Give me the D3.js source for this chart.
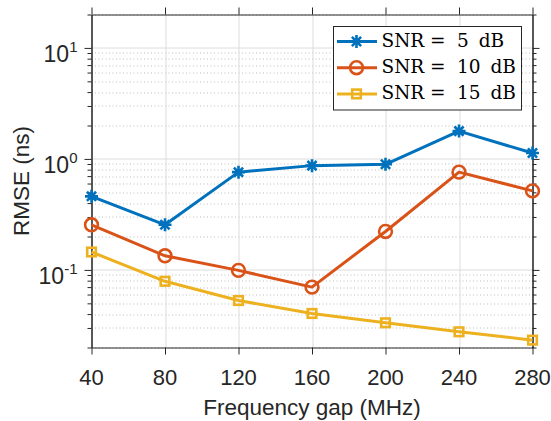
<!DOCTYPE html>
<html>
<head>
<meta charset="utf-8">
<script src="https://cdn.jsdelivr.net/npm/d3@7"></script>
<style>
  html, body { margin: 0; padding: 0; background: #fff; }
  svg { display: block; }
  .tick-label { font-family: "Liberation Sans", Arial, Helvetica, sans-serif; fill: #262626; }
  .legend-text { font-family: "DejaVu Serif", "Liberation Serif", serif; fill: #000; }
</style>
</head>
<body>
<svg class="chart" width="551" height="421"></svg>
<script>
const freqs = [40, 80, 120, 160, 200, 240, 280],
      snr5  = [0.46, 0.255, 0.76, 0.87, 0.895, 1.78, 1.13],
      snr10 = [0.255, 0.134, 0.099, 0.070, 0.222, 0.76, 0.515],
      snr15 = [0.145, 0.079, 0.053, 0.0405, 0.0334, 0.0277, 0.0233],
      seriesNames = ["5", "10", "15"],
      xTicks = [40, 80, 120, 160, 200, 240, 280],
      yMajor = [0.1, 1, 10],
      yExp = ["-1", "0", "1"]

const colors = ["#0072bd", "#d95319", "#edb120"],
      markers = ["star", "circle", "square"],
      axisColor = "#262626"

const margin = { top: 14.5, right: 18.5, bottom: 73.5, left: 91.5 },
      W = 551, H = 421,
      width = W - margin.left - margin.right,
      height = H - margin.top - margin.bottom

var chart = d3.select(".chart")

var x = d3.scaleLinear().domain([40, 280]).range([0, width])
var y = d3.scaleLog().domain([0.02, 20]).range([height, 0])

var g = chart.append("g")
  .attr("transform", "translate(" + margin.left + "," + margin.top + ")")

// minor log ticks: 2..9 in each decade, inside the domain
var yMinor = []
;[0.01, 0.1, 1, 10].forEach(function(dec) {
  for (var k = 2; k <= 9; k++) {
    var v = +(dec * k).toPrecision(3)
    if (v >= 0.02 && v <= 20) yMinor.push(v)
  }
})

// grid
g.append("g").selectAll("line").data(yMinor).enter().append("line")
  .attr("x1", 0).attr("x2", width)
  .attr("y1", function(d) { return Math.round(y(d)) + 0.5 })
  .attr("y2", function(d) { return Math.round(y(d)) + 0.5 })
  .attr("stroke", "#bdbdbd").attr("stroke-width", 1)
  .attr("stroke-dasharray", "1,2.5")

g.append("g").selectAll("line").data(yMajor).enter().append("line")
  .attr("x1", 0).attr("x2", width)
  .attr("y1", function(d) { return Math.round(y(d)) + 0.5 })
  .attr("y2", function(d) { return Math.round(y(d)) + 0.5 })
  .attr("stroke", "#dcdcdc").attr("stroke-width", 1)

g.append("g").selectAll("line").data(xTicks).enter().append("line")
  .attr("y1", 0).attr("y2", height)
  .attr("x1", function(d) { return Math.round(x(d)) + 0.5 })
  .attr("x2", function(d) { return Math.round(x(d)) + 0.5 })
  .attr("stroke", "#dcdcdc").attr("stroke-width", 1)

// axes (outward ticks on all four sides)
function styleAxis(sel) {
  sel.select(".domain").attr("stroke", axisColor)
  sel.selectAll(".tick line").attr("stroke", axisColor)
  sel.selectAll("text").remove()
}

g.append("g")
  .attr("transform", "translate(0," + height + ")")
  .call(d3.axisBottom(x).tickValues(xTicks).tickSize(7).tickSizeOuter(0))
  .call(styleAxis)

g.append("g")
  .call(d3.axisTop(x).tickValues(xTicks).tickSize(7).tickSizeOuter(0))
  .call(styleAxis)

g.append("g")
  .call(d3.axisLeft(y).tickValues(yMajor).tickSize(7).tickSizeOuter(0))
  .call(styleAxis)
g.append("g")
  .call(d3.axisLeft(y).tickValues(yMinor).tickSize(4).tickSizeOuter(0))
  .call(styleAxis)

g.append("g")
  .attr("transform", "translate(" + width + ",0)")
  .call(d3.axisRight(y).tickValues(yMajor).tickSize(7).tickSizeOuter(0))
  .call(styleAxis)
g.append("g")
  .attr("transform", "translate(" + width + ",0)")
  .call(d3.axisRight(y).tickValues(yMinor).tickSize(4).tickSizeOuter(0))
  .call(styleAxis)

// tick labels
g.append("g").selectAll("text").data(xTicks).enter().append("text")
  .attr("class", "tick-label")
  .attr("x", function(d) { return x(d) })
  .attr("y", height + 37.5)
  .attr("text-anchor", "middle")
  .style("font-size", "22px")
  .text(function(d) { return d })

var yl = g.append("g").selectAll("text").data(yMajor).enter().append("text")
  .attr("class", "tick-label")
  .attr("x", -14)
  .attr("y", function(d) { return y(d) + 14.5 })
  .attr("text-anchor", "end")
  .style("font-size", "23px")
yl.append("tspan").text("10")
yl.append("tspan").attr("dy", -10).style("font-size", "15px")
  .text(function(d, i) { return yExp[i] })

// axis titles
g.append("text")
  .attr("class", "tick-label")
  .attr("x", width / 2)
  .attr("y", height + 67.5)
  .attr("text-anchor", "middle")
  .style("font-size", "22.5px")
  .text("Frequency gap (MHz)")

g.append("text")
  .attr("class", "tick-label")
  .attr("transform", "translate(" + (28.5 - margin.left) + "," + (height / 2) + ") rotate(-90)")
  .attr("text-anchor", "middle")
  .style("font-size", "22.5px")
  .text("RMSE (ns)")

// markers
function drawMarker(sel, type, color) {
  if (type === "star") {
    var r = 6.5, d = r * Math.SQRT1_2
    sel.append("path")
      .attr("d", "M" + (-r) + ",0H" + r + "M0," + (-r) + "V" + r +
                 "M" + (-d) + "," + (-d) + "L" + d + "," + d +
                 "M" + (-d) + "," + d + "L" + d + "," + (-d))
      .attr("stroke", color).attr("stroke-width", 2.6).attr("fill", "none")
  } else if (type === "circle") {
    sel.append("circle").attr("r", 6.4)
      .attr("stroke", color).attr("stroke-width", 2.6).attr("fill", "none")
  } else {
    sel.append("rect").attr("x", -4.3).attr("y", -4.3).attr("width", 8.6).attr("height", 8.6)
      .attr("stroke", color).attr("stroke-width", 2.6).attr("fill", "none")
  }
}

var allSeries = [snr5, snr10, snr15]
var line = d3.line()
  .x(function(d, i) { return x(freqs[i]) })
  .y(function(d) { return y(d) })

allSeries.forEach(function(vals, s) {
  g.append("path")
    .datum(vals)
    .attr("d", line)
    .attr("fill", "none")
    .attr("stroke", colors[s])
    .attr("stroke-width", 3)
    .attr("stroke-linejoin", "round")

  g.append("g").selectAll("g").data(vals).enter().append("g")
    .attr("transform", function(d, i) { return "translate(" + x(freqs[i]) + "," + y(d) + ")" })
    .each(function() { drawMarker(d3.select(this), markers[s], colors[s]) })
})

// legend
var lg = chart.append("g").attr("transform", "translate(333.5,26.5)")
lg.append("rect")
  .attr("width", 188).attr("height", 83.5)
  .attr("fill", "#fff").attr("stroke", axisColor).attr("stroke-width", 1)

seriesNames.forEach(function(name, s) {
  var cy = 15 + s * 26.2
  var row = lg.append("g").attr("transform", "translate(0," + cy + ")")
  row.append("line").attr("x1", 3.5).attr("x2", 43.5)
    .attr("stroke", colors[s]).attr("stroke-width", 3)
  var m = row.append("g").attr("transform", "translate(23,0)")
  drawMarker(m, markers[s], colors[s])
  var t = row.append("text").attr("class", "legend-text")
    .attr("y", 5.5).style("font-size", "18.5px")
  t.append("tspan").attr("x", 48).text("SNR")
  t.append("tspan").attr("x", 96.5).text("=")
  t.append("tspan").attr("x", 123.5).text(name)
  t.append("tspan").attr("dx", 4).text(" dB")
})
</script>
</body>
</html>
